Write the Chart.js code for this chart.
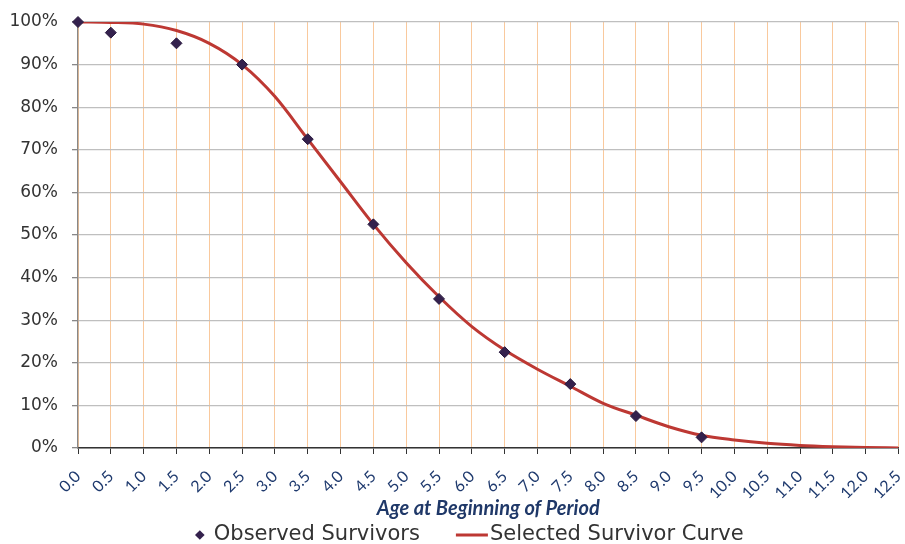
<!DOCTYPE html>
<html>
<head>
<meta charset="utf-8">
<script src="https://cdn.jsdelivr.net/npm/chart.js@4.4.1/dist/chart.umd.min.js"></script>
<style>
  html, body { margin: 0; padding: 0; background: #ffffff; }
  #wrap { width: 905px; height: 544px; position: relative; }
</style>
</head>
<body>
<div id="wrap"><canvas id="c" width="905" height="544"></canvas></div>
<script>
// Observed survivors (age, % surviving)
const observedAges = [0.0, 0.5, 1.5, 2.5, 3.5, 4.5, 5.5, 6.5, 7.5, 8.5, 9.5];
const observedValues = [100, 97.5, 95, 90, 72.5, 52.5, 35, 22.5, 15, 7.5, 2.5];

// Selected survivor curve, read at every half year
const curveAges = [0.0, 0.5, 1.0, 1.5, 2.0, 2.5, 3.0, 3.5, 4.0, 4.5, 5.0, 5.5, 6.0,
                   6.5, 7.0, 7.5, 8.0, 8.5, 9.0, 9.5, 10.0, 10.5, 11.0, 11.5, 12.0, 12.5];
const curveValues = [100, 99.9, 99.5, 98.0, 95.0, 90.0, 82.5, 72.5, 62.5, 52.5, 43.5, 35.5, 28.5,
                     23.0, 18.5, 14.5, 10.5, 7.7, 5.0, 3.0, 1.9, 1.1, 0.6, 0.3, 0.1, 0.0];

// Tick labels
const xTickLabels = ['0.0','0.5','1.0','1.5','2.0','2.5','3.0','3.5','4.0','4.5','5.0','5.5','6.0',
                     '6.5','7.0','7.5','8.0','8.5','9.0','9.5','10.0','10.5','11.0','11.5','12.0','12.5'];
const yTickLabels = ['0%','10%','20%','30%','40%','50%','60%','70%','80%','90%','100%'];

const xTitle = 'Age at Beginning of Period';
const seriesNames = ['Observed Survivors', 'Selected Survivor Curve'];

const observedPts = observedAges.map((a, i) => ({ x: a, y: observedValues[i] }));
const curvePts = curveAges.map((a, i) => ({ x: a, y: curveValues[i] }));

// Simple legend drawn under the axis title
const bottomLegend = {
  id: 'bottomLegend',
  afterDraw(chart) {
    const ctx = chart.ctx;
    const ds = chart.data.datasets;
    const font = '21px "DejaVu Sans"';
    ctx.save();
    ctx.font = font;
    ctx.textBaseline = 'middle';
    ctx.fillStyle = '#333333';
    const w1 = ctx.measureText(ds[0].label).width;
    const w2 = ctx.measureText(ds[1].label).width;
    const mark1 = 10, gap1 = 9, between = 36, mark2 = 32, gap2 = 2;
    const total = mark1 + gap1 + w1 + between + mark2 + gap2 + w2;
    const ca = chart.chartArea;
    const cx = (ca.left + ca.right) / 2 - 19;
    const y = chart.height - 9;
    let x = cx - total / 2;
    // diamond
    const r = 4.8;
    const dx = x + mark1 / 2;
    ctx.beginPath();
    ctx.moveTo(dx, y - r); ctx.lineTo(dx + r, y); ctx.lineTo(dx, y + r); ctx.lineTo(dx - r, y);
    ctx.closePath();
    ctx.fillStyle = ds[0].backgroundColor;
    ctx.fill();
    x += mark1 + gap1;
    ctx.fillStyle = '#333333';
    ctx.fillText(ds[0].label, x, y);
    x += w1 + between;
    ctx.beginPath();
    ctx.moveTo(x, y); ctx.lineTo(x + mark2, y);
    ctx.strokeStyle = ds[1].borderColor;
    ctx.lineWidth = 3;
    ctx.stroke();
    x += mark2 + gap2;
    ctx.fillText(ds[1].label, x, y);
    ctx.restore();
  }
};

new Chart(document.getElementById('c'), {
  type: 'scatter',
  data: {
    datasets: [
      {
        label: seriesNames[0],
        data: observedPts,
        pointStyle: 'rectRot',
        pointRadius: 5.5,
        pointHoverRadius: 5.5,
        backgroundColor: '#34214d',
        borderColor: '#2a1a3f',
        borderWidth: 1,
        showLine: false,
        clip: false
      },
      {
        label: seriesNames[1],
        data: curvePts,
        type: 'line',
        showLine: true,
        pointRadius: 0,
        borderColor: '#bd3833',
        backgroundColor: '#bd3833',
        borderWidth: 3,
        cubicInterpolationMode: 'monotone',
        fill: false
      }
    ]
  },
  plugins: [bottomLegend],
  options: {
    responsive: false,
    animation: false,
    devicePixelRatio: 1,
    layout: { padding: { top: 22, right: 5, left: 0, bottom: 23 } },
    plugins: {
      tooltip: { enabled: false },
      legend: { display: false }
    },
    scales: {
      x: {
        type: 'linear',
        min: 0,
        max: 12.5,
        afterFit: function (s) { s.paddingLeft = 0; s.paddingRight = 0; s.height = 73; },
        grid: {
          color: '#f9c99d',
          lineWidth: 1,
          tickColor: '#333333',
          tickLength: 6,
          drawOnChartArea: true
        },
        border: { color: '#333333', width: 1.5 },
        ticks: {
          stepSize: 0.5,
          autoSkip: false,
          maxRotation: 45,
          minRotation: 45,
          padding: 13,
          color: '#1f3a6e',
          font: { family: 'Lato', size: 16 },
          callback: function (v) {
            const i = Math.round(v * 2);
            return xTickLabels[i];
          }
        },
        title: {
          display: true,
          text: xTitle,
          color: '#1f3868',
          font: { family: 'Lato', size: 20, weight: 'bold', style: 'italic' },
          padding: { top: 2, bottom: 0 }
        }
      },
      y: {
        min: 0,
        max: 100,
        afterFit: function (s) { s.width = 78; s.paddingTop = 0; s.paddingBottom = 0; },
        grid: {
          color: '#bfbfbf',
          lineWidth: 1.3,
          tickColor: '#888888',
          tickLength: 6
        },
        border: { color: '#888888', width: 1.3 },
        ticks: {
          stepSize: 10,
          padding: 14,
          color: '#333333',
          font: { family: 'DejaVu Sans', size: 17 },
          callback: function (v) {
            return yTickLabels[Math.round(v / 10)];
          }
        }
      }
    }
  }
});
</script>
</body>
</html>
